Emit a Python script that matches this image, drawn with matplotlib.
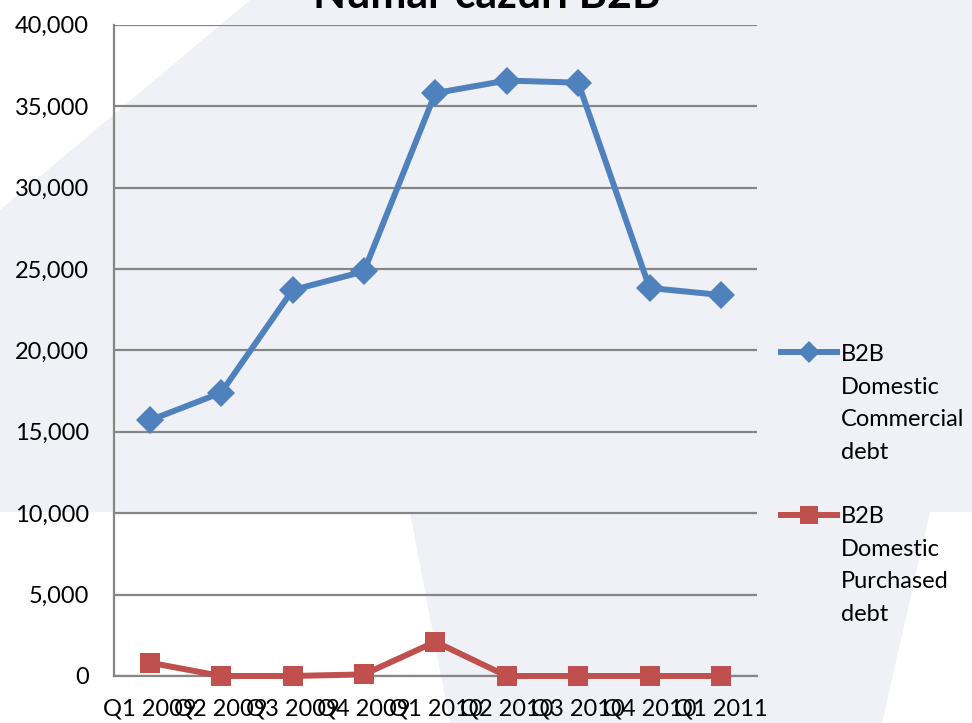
import matplotlib
matplotlib.use("Agg")
import matplotlib.pyplot as plt
from matplotlib.lines import Line2D
from matplotlib.patches import Polygon
from matplotlib.ticker import FuncFormatter, MultipleLocator

categories = ["Q1 2009", "Q2 2009", "Q3 2009", "Q4 2009", "Q1 2010",
              "Q2 2010", "Q3 2010", "Q4 2010", "Q1 2011"]
commercial = [15700, 17400, 23700, 24850, 35800, 36570, 36440, 23830, 23400]
purchased = [820, 0, 0, 100, 2100, 0, 0, 0, 0]
series_names = ["B2B\nDomestic\nCommercial\ndebt", "B2B\nDomestic\nPurchased\ndebt"]
title = "Numar cazuri B2B"

BLUE = "#4F81BD"
RED = "#C0504D"
GRID = "#868686"
BG = "#F0F1F6"

plt.rcParams["font.family"] = ["Lato", "DejaVu Sans"]

fig = plt.figure(figsize=(9.72, 7.23), dpi=100, facecolor=BG)

# faint white watermark shapes in the background
for pts in [
    [(0, 1), (250 / 972, 1), (0, 1 - 210 / 723)],
    [(0, 1 - 512 / 723), (410 / 972, 1 - 512 / 723), (450 / 972, 0), (0, 0)],
    [(930 / 972, 1 - 512 / 723), (1, 1 - 512 / 723), (1, 0), (882 / 972, 0)],
]:
    fig.patches.append(Polygon(pts, closed=True, transform=fig.transFigure,
                               facecolor="white", edgecolor="none", zorder=-10))

ax = fig.add_axes([114 / 972, 1 - 676 / 723, (756.7 - 114) / 972, (676 - 24.7) / 723])
ax.set_facecolor("none")

x = list(range(len(categories)))
ax.plot(x, commercial, color=BLUE, lw=4.3, marker="D", ms=14.5, mew=0,
        solid_joinstyle="round", clip_on=False, zorder=3)
ax.plot(x, purchased, color=RED, lw=4.3, marker="s", ms=15, mew=0,
        solid_joinstyle="round", clip_on=False, zorder=3)

ax.set_xlim(-0.5, len(categories) - 0.5)
ax.set_ylim(0, 40000)
ax.yaxis.set_major_locator(MultipleLocator(5000))
ax.yaxis.set_major_formatter(FuncFormatter(lambda v, p: f"{int(v):,}"))
ax.set_xticks(x)
ax.set_xticklabels(categories)
ax.grid(axis="y", color=GRID, lw=1.6)
ax.set_axisbelow(True)
for s in ["top", "right"]:
    ax.spines[s].set_visible(False)
for s in ["left", "bottom"]:
    ax.spines[s].set_color(GRID)
    ax.spines[s].set_linewidth(1.6)
ax.tick_params(axis="both", length=0, labelsize=17, colors="black")
ax.tick_params(axis="y", pad=18)
ax.tick_params(axis="x", pad=16)

fig.text(487 / 972, 1 - 8 / 723, title, ha="center", va="baseline",
         fontsize=31, fontweight="bold")

handles = [
    Line2D([], [], color=BLUE, lw=4.3, marker="D", ms=11, mew=0),
    Line2D([], [], color=RED, lw=4.3, marker="s", ms=13, mew=0),
]
leg = fig.legend(handles, series_names, loc="upper left",
                 bbox_to_anchor=(781 / 972, 1 - 344 / 723),
                 frameon=False, fontsize=17, handlelength=2.37,
                 handletextpad=0.17, labelspacing=1.85, borderpad=0,
                 borderaxespad=0)
for t in leg.get_texts():
    t.set_linespacing(1.68)
# align each legend handle with the first line of its label
for col in leg._legend_handle_box.get_children():
    for row in col.get_children():
        row.align = "top"

fig.savefig("out.png", dpi=100, facecolor=BG)
